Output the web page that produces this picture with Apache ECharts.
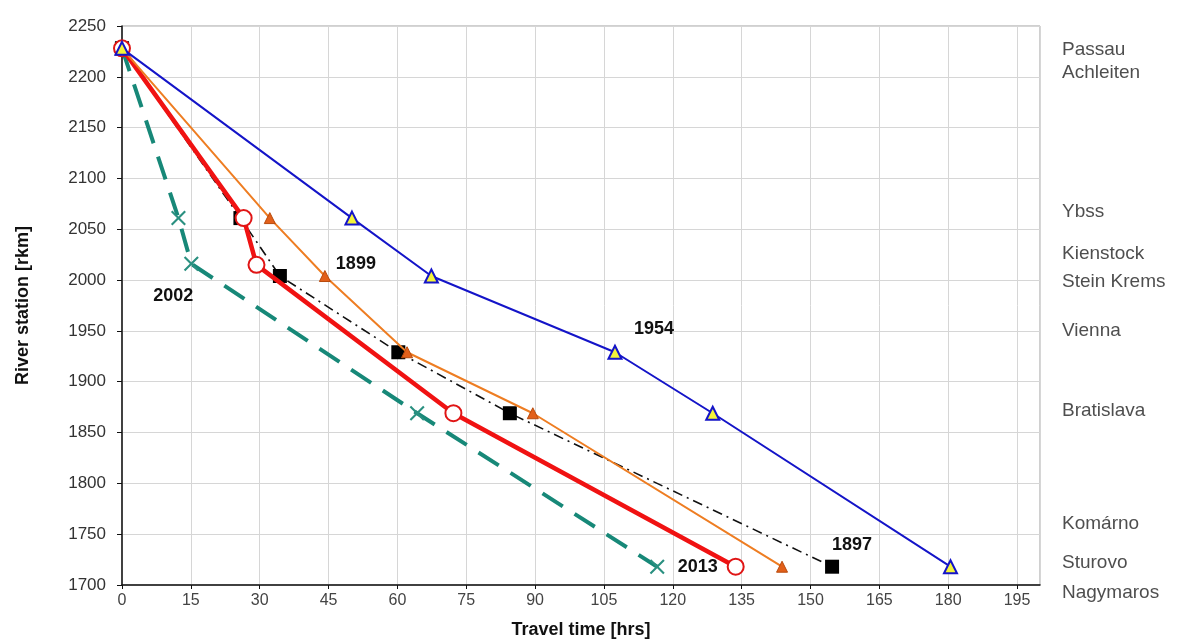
<!DOCTYPE html>
<html>
<head>
<meta charset="utf-8">
<title>Travel time</title>
<script src="https://cdn.jsdelivr.net/npm/echarts@6/dist/echarts.min.js"></script>
<style>
  html, body { margin: 0; padding: 0; background: #fff; }
  #chart { width: 1190px; height: 644px; }
</style>
</head>
<body>
<div id="chart"></div>
<script>
// values: [travel time hrs, river km]
const data1954 = [[0, 2228], [50.1, 2061], [67.4, 2004], [107.4, 1929], [128.7, 1869], [180.5, 1718]]
const data1899 = [[0, 2228], [32.2, 2061], [44.2, 2004], [62.1, 1929], [89.5, 1869], [143.8, 1718]]
const data1897 = [[0, 2228], [25.8, 2061], [34.4, 2004], [60.2, 1929], [84.5, 1869], [154.7, 1718]]
const data2013 = [[0, 2228], [26.5, 2061], [29.3, 2015], [72.2, 1869], [133.7, 1718]]
const data2002 = [[0, 2228], [12.3, 2061], [15.1, 2016], [64.3, 1869], [116.6, 1718]]

const stationNames = ['Passau', 'Achleiten', 'Ybss', 'Kienstock', 'Stein Krems', 'Vienna', 'Bratislava', 'Komárno', 'Sturovo', 'Nagymaros']
const stationLabelKm = [2227, 2204, 2067, 2026, 1998, 1950, 1871, 1760, 1722, 1692]

const xTicks = { min: 0, max: 200, interval: 15 }
const yTicks = { min: 1700, max: 2250, interval: 50 }

const font = 'Liberation Sans, Arial, sans-serif'
const xMark = 'path://M0,1 L1,0 L5,4 L9,0 L10,1 L6,5 L10,9 L9,10 L5,6 L1,10 L0,9 L4,5 Z'

// puts the year text next to one point of a series
function yearLabel(arr, idx, text, offset) {
  return arr.map((p, i) => {
    if (i !== idx) return p
    return {
      value: p,
      label: {
        show: true,
        position: 'inside',
        offset: offset,
        formatter: text,
        fontFamily: font,
        fontWeight: 'bold',
        fontSize: 18,
        color: '#111'
      }
    }
  })
}

const chart = echarts.init(document.getElementById('chart'))

const option = {
  animation: false,
  grid: {
    left: 122,
    right: 150,
    top: 26,
    bottom: 59,
    show: true,
    borderColor: '#a0a0a0',
    borderWidth: 1
  },
  xAxis: {
    type: 'value',
    min: xTicks.min,
    max: xTicks.max,
    interval: xTicks.interval,
    name: 'Travel time [hrs]',
    nameLocation: 'middle',
    nameGap: 36,
    nameTextStyle: { fontFamily: font, fontWeight: 'bold', fontSize: 18, color: '#111' },
    axisLine: { show: true, lineStyle: { color: '#111', width: 1.5 } },
    axisTick: { show: true, length: 4, lineStyle: { color: '#111' } },
    axisLabel: { showMaxLabel: false, fontFamily: font, fontSize: 16, color: '#444', margin: 8 },
    splitLine: { show: true, lineStyle: { color: '#d6d6d6' } }
  },
  yAxis: {
    type: 'value',
    min: yTicks.min,
    max: yTicks.max,
    interval: yTicks.interval,
    name: 'River station [rkm]',
    nameLocation: 'middle',
    nameGap: 90,
    nameTextStyle: { fontFamily: font, fontWeight: 'bold', fontSize: 18, color: '#111' },
    axisLine: { show: true, lineStyle: { color: '#111', width: 1.5 } },
    axisTick: { show: true, length: 5, lineStyle: { color: '#111' } },
    axisLabel: { formatter: v => String(v), fontFamily: font, fontSize: 17, color: '#333', margin: 16 },
    splitLine: { show: true, lineStyle: { color: '#d6d6d6' } }
  },
  series: [
    {
      name: '2002',
      type: 'line',
      z: 2,
      data: yearLabel(data2002, 2, '2002', [-18, 32]),
      lineStyle: { color: '#178878', width: 4, type: [24, 14] },
      symbol: xMark,
      symbolSize: 15,
      itemStyle: { color: '#2a9080' }
    },
    {
      name: '1897',
      type: 'line',
      z: 3,
      data: yearLabel(data1897, 5, '1897', [20, -22]),
      lineStyle: { color: '#111', width: 1.6, type: [10, 5, 2, 5] },
      symbol: 'rect',
      symbolSize: 14,
      itemStyle: { color: '#000' }
    },
    {
      name: '2013',
      type: 'line',
      z: 4,
      data: yearLabel(data2013, 4, '2013', [-38, 0]),
      lineStyle: { color: '#f01212', width: 4.5 },
      symbol: 'circle',
      symbolSize: 16,
      itemStyle: { color: '#fff', borderColor: '#e01515', borderWidth: 2 }
    },
    {
      name: '1899',
      type: 'line',
      z: 5,
      data: yearLabel(data1899, 2, '1899', [31, -12]),
      lineStyle: { color: '#ee7d22', width: 2 },
      symbol: 'triangle',
      symbolSize: 11,
      itemStyle: { color: '#e2601a', borderColor: '#b84a0c', borderWidth: 1 }
    },
    {
      name: '1954',
      type: 'line',
      z: 6,
      data: yearLabel(data1954, 3, '1954', [39, -23]),
      lineStyle: { color: '#1414c8', width: 2 },
      symbol: 'triangle',
      symbolSize: 13,
      itemStyle: { color: '#f4f43a', borderColor: '#1414c8', borderWidth: 2 }
    },
    {
      name: 'stations',
      type: 'scatter',
      clip: false,
      symbolSize: 0,
      silent: true,
      data: stationNames.map((n, i) => [xTicks.max, stationLabelKm[i], n]),
      label: {
        show: true,
        position: 'right',
        distance: 22,
        formatter: p => p.data[2],
        fontFamily: font,
        fontSize: 19,
        color: '#222'
      }
    }
  ]
}

chart.setOption(option)
</script>
</body>
</html>
